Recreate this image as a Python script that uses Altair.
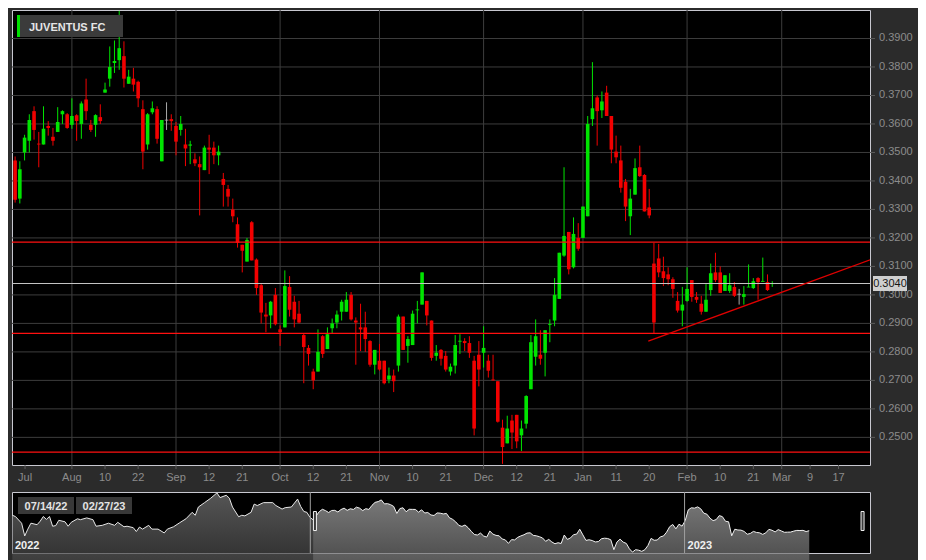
import altair as alt
import pandas as pd

# ---------------- data (daily candles, 14 Jul 2022 - 27 Feb 2023) ----------------
dates = [
    "2022-07-14", "2022-07-15", "2022-07-18", "2022-07-19", "2022-07-20", "2022-07-21", "2022-07-22", "2022-07-25", "2022-07-26", "2022-07-27", "2022-07-28", "2022-07-29",
    "2022-08-01", "2022-08-02", "2022-08-03", "2022-08-04", "2022-08-05", "2022-08-08", "2022-08-09", "2022-08-10", "2022-08-11", "2022-08-12", "2022-08-16", "2022-08-17", "2022-08-18", "2022-08-19", "2022-08-22", "2022-08-23", "2022-08-24", "2022-08-25", "2022-08-26", "2022-08-29", "2022-08-30", "2022-08-31",
    "2022-09-01", "2022-09-02", "2022-09-05", "2022-09-06", "2022-09-07", "2022-09-08", "2022-09-09", "2022-09-12", "2022-09-13", "2022-09-14", "2022-09-15", "2022-09-16", "2022-09-19", "2022-09-20", "2022-09-21", "2022-09-22", "2022-09-23", "2022-09-26", "2022-09-27", "2022-09-28", "2022-09-29", "2022-09-30",
    "2022-10-03", "2022-10-04", "2022-10-05", "2022-10-06", "2022-10-07", "2022-10-10", "2022-10-11", "2022-10-12", "2022-10-13", "2022-10-14", "2022-10-17", "2022-10-18", "2022-10-19", "2022-10-20", "2022-10-21", "2022-10-24", "2022-10-25", "2022-10-26", "2022-10-27", "2022-10-28", "2022-10-31",
    "2022-11-01", "2022-11-02", "2022-11-03", "2022-11-04", "2022-11-07", "2022-11-08", "2022-11-09", "2022-11-10", "2022-11-11", "2022-11-14", "2022-11-15", "2022-11-16", "2022-11-17", "2022-11-18", "2022-11-21", "2022-11-22", "2022-11-23", "2022-11-24", "2022-11-25", "2022-11-28", "2022-11-29", "2022-11-30",
    "2022-12-01", "2022-12-02", "2022-12-05", "2022-12-06", "2022-12-07", "2022-12-08", "2022-12-09", "2022-12-12", "2022-12-13", "2022-12-14", "2022-12-15", "2022-12-16", "2022-12-19", "2022-12-20", "2022-12-21", "2022-12-22", "2022-12-23", "2022-12-27", "2022-12-28", "2022-12-29", "2022-12-30",
    "2023-01-02", "2023-01-03", "2023-01-04", "2023-01-05", "2023-01-06", "2023-01-09", "2023-01-10", "2023-01-11", "2023-01-12", "2023-01-13", "2023-01-16", "2023-01-17", "2023-01-18", "2023-01-19", "2023-01-20", "2023-01-23", "2023-01-24", "2023-01-25", "2023-01-26", "2023-01-27", "2023-01-30", "2023-01-31",
    "2023-02-01", "2023-02-02", "2023-02-03", "2023-02-06", "2023-02-07", "2023-02-08", "2023-02-09", "2023-02-10", "2023-02-13", "2023-02-14", "2023-02-15", "2023-02-16", "2023-02-17", "2023-02-20", "2023-02-21", "2023-02-22", "2023-02-23", "2023-02-24", "2023-02-27",
]

opens = [
    .3472, .3338, .3500, .3541, .3645, .3531, .3528, .3593, .3555, .3572, .3634, .3634,
    .3597, .3631, .3600, .3686, .3597, .3597, .3624, .3710, .3759, .3814, .3824, .3838, .3741, .3759, .3748, .3652, .3528, .3641, .3652, .3469, .3615, .3617,
    .3593, .3579, .3528, .3524, .3476, .3459, .3438, .3517, .3517, .3490, .3407, .3372, .3300, .3248, .3176, .3117, .3255, .3124, .3034, .2931, .2928, .3000,
    .2879, .2886, .3028, .2976, .2934, .2859, .2814, .2731, .2731, .2855, .2810, .2883, .2903, .2941, .2941, .3000, .2910, .2886, .2886, .2838, .2755,
    .2769, .2769, .2703, .2717, .2752, .2924, .2821, .2824, .2946, .2966, .2979, .2910, .2786, .2807, .2786, .2731, .2752, .2836, .2838, .2831, .2769, .2790,
    .2797, .2769, .2703, .2697, .2534, .2479, .2559, .2579, .2507, .2548, .2669, .2855, .2776, .2797, .2895, .2910, .2986, .3138, .3221, .3097, .3200,
    .3200, .3276, .3617, .3693, .3648, .3710, .3628, .3503, .3472, .3397, .3276, .3352, .3448, .3421, .3307, .3110, .3128, .3083, .3072, .3055, .2979, .2945,
    .2979, .3052, .2993, .2969, .2941, .3017, .3079, .3079, .3014, .3014, .3028, .3004, .2993, .3026, .3024, .3059, .3046, .3045, .3038,
]
highs = [
    .3486, .3469, .3562, .3634, .3662, .3572, .3662, .3610, .3586, .3659, .3648, .3638,
    .3690, .3634, .3679, .3759, .3614, .3634, .3669, .3745, .3872, .3893, .3997, .3890, .3790, .3797, .3752, .3683, .3638, .3679, .3662, .3614, .3676, .3634,
    .3607, .3628, .3583, .3541, .3497, .3486, .3524, .3562, .3538, .3524, .3428, .3386, .3338, .3272, .3176, .3200, .3259, .3128, .3038, .2972, .2979, .3024,
    .2893, .3086, .3066, .2997, .2979, .2866, .2824, .2741, .2879, .2859, .2886, .2917, .2945, .2983, .3010, .3010, .2921, .2969, .2941, .2841, .2807,
    .2828, .2769, .2745, .2738, .2931, .2924, .2855, .2945, .2979, .3079, .2979, .2910, .2824, .2810, .2803, .2759, .2859, .2862, .2848, .2855, .2786, .2838,
    .2890, .2790, .2790, .2697, .2562, .2576, .2579, .2579, .2559, .2648, .2859, .2914, .2876, .2876, .2914, .3059, .3148, .3448, .3221, .3272, .3252,
    .3310, .3628, .3817, .3700, .3714, .3734, .3628, .3559, .3524, .3407, .3372, .3479, .3524, .3424, .3372, .3183, .3179, .3134, .3097, .3062, .3010, .3028,
    .3097, .3052, .3010, .2997, .3038, .3110, .3148, .3100, .3069, .3076, .3045, .3021, .3031, .3107, .3059, .3062, .3131, .3072, .3048,
]
lows = [
    .3324, .3321, .3472, .3500, .3545, .3448, .3528, .3559, .3524, .3572, .3600, .3583,
    .3583, .3541, .3548, .3614, .3572, .3555, .3600, .3710, .3731, .3779, .3790, .3728, .3741, .3714, .3659, .3441, .3510, .3634, .3531, .3469, .3579, .3576,
    .3490, .3559, .3452, .3459, .3452, .3279, .3438, .3424, .3459, .3455, .3310, .3310, .3255, .3166, .3079, .3117, .3121, .3000, .2900, .2869, .2883, .2893,
    .2821, .2886, .2924, .2886, .2900, .2690, .2752, .2669, .2731, .2779, .2810, .2866, .2883, .2910, .2941, .2910, .2755, .2803, .2800, .2748, .2721,
    .2734, .2686, .2690, .2659, .2731, .2807, .2762, .2824, .2900, .2966, .2893, .2769, .2769, .2752, .2731, .2717, .2724, .2793, .2803, .2779, .2507, .2679,
    .2745, .2710, .2700, .2552, .2407, .2479, .2459, .2462, .2452, .2531, .2669, .2752, .2755, .2714, .2834, .2890, .2986, .3134, .3072, .3093, .3155,
    .3200, .3276, .3593, .3524, .3621, .3628, .3462, .3462, .3359, .3259, .3210, .3352, .3414, .3293, .3269, .2866, .3062, .3031, .3034, .2990, .2938, .2890,
    .2976, .2976, .2972, .2931, .2941, .2997, .3045, .3007, .3014, .3007, .2993, .2966, .2966, .3028, .3021, .2983, .3048, .3014, .3028,
]
closes = [
    .3334, .3441, .3552, .3614, .3579, .3528, .3583, .3586, .3541, .3607, .3645, .3586,
    .3628, .3610, .3672, .3645, .3579, .3631, .3610, .3721, .3800, .3821, .3866, .3759, .3766, .3738, .3690, .3503, .3634, .3655, .3548, .3614, .3612, .3610,
    .3538, .3600, .3514, .3528, .3462, .3448, .3517, .3510, .3490, .3503, .3386, .3345, .3276, .3183, .3155, .3193, .3121, .3024, .2938, .2924, .2976, .2897,
    .2869, .3031, .2948, .2914, .2903, .2817, .2793, .2700, .2800, .2793, .2862, .2900, .2931, .2976, .2983, .2914, .2903, .2879, .2845, .2755, .2807,
    .2738, .2690, .2717, .2697, .2924, .2807, .2845, .2934, .2949, .3079, .2928, .2779, .2797, .2776, .2738, .2748, .2824, .2839, .2831, .2797, .2531, .2738,
    .2814, .2734, .2700, .2555, .2466, .2531, .2517, .2486, .2531, .2645, .2834, .2783, .2790, .2876, .2898, .3000, .3148, .3207, .3090, .3214, .3162,
    .3310, .3600, .3655, .3645, .3679, .3628, .3510, .3483, .3376, .3310, .3338, .3445, .3417, .3293, .3279, .2903, .3079, .3059, .3055, .3021, .2945, .2966,
    .3021, .2993, .2983, .2941, .2983, .3076, .3052, .3007, .3069, .3034, .2997, .3001, .3003, .3029, .3048, .3045, .3049, .3017, .3040,
]
# g = up (green), r = down (red), n = unchanged (grey); one string per month
tone_rows = [
    "rgggrrgrrggr",
    "grgrrgrggggrgrrrggrgnr",
    "rgrgrrgrrgrrrrrgrrrrgr",
    "rgrrrrrrgrgggggrrrrrg",
    "rrgrgrggggrrgrrgggrrrr",
    "grrrrgrrggggrgggggrgr",
    "gggrgrrrrrggrrrrrrrrrg",
    "grrrggrrggrngggrgrg",
]
tones = list("".join(tone_rows))

# x-axis (trading-day index, 0 = 1 Aug 2022)
first_index = -12
tick_index = [-9.9, 0, 7, 14, 22, 29, 36, 44, 51, 58, 65, 72, 79, 87, 94, 101, 108, 115, 122, 130, 137, 144, 150, 156, 162]
tick_label = ["Jul", "Aug", "10", "22", "Sep", "12", "21", "Oct", "12", "21", "Nov", "10", "21", "Dec", "12", "21",
              "Jan", "11", "20", "Feb", "10", "21", "Mar", "9", "17"]
month_index = [0, 22, 44, 65, 87, 108, 130, 150]
x_domain = [-11.6, 167.6]

# y-axis
y_domain = [0.2403, 0.4000]
y_ticks = [0.25, 0.26, 0.27, 0.28, 0.29, 0.30, 0.31, 0.32, 0.33, 0.34, 0.35, 0.36, 0.37, 0.38, 0.39]

# drawn levels
red_levels = [0.3185, 0.2865, 0.2448]
trend_index = [121.8, 170.0]
trend_price = [0.2838, 0.3131]

# navigator: earlier history (closes read from the overview strip)
early_index = [-109, -108, -106, -105, -104, -103, -101, -100, -99, -98,
               -97, -96, -95, -94, -92, -91, -90, -88, -87, -85,
               -83, -82, -80, -78, -76, -75, -73, -72, -70, -69,
               -68, -67, -65, -64, -62, -60, -59, -57, -55, -53,
               -51, -50, -49, -47, -45, -43, -42, -40, -39, -38,
               -36, -35, -34, -32, -31, -30, -28, -25, -24, -22,
               -21, -19, -17, -16, -15, -14, -13]
early_close = [.3454, .3421, .3241, .2900, .3082, .3241, .3201, .3296, .3421, .3343,
               .3421, .3160, .3177, .3319, .3279, .3160, .3265, .3359, .3336, .3383,
               .3336, .3160, .3184, .3241, .3184, .3265, .3146, .3160, .3122, .3018,
               .3137, .3082, .3184, .3082, .3082, .2980, .3082, .3146, .3255, .3359,
               .3533, .3454, .3675, .3793, .3912, .4054, .3928, .3990, .3912, .3675,
               .3414, .3454, .3438, .3533, .3753, .3715, .3793, .3793, .3715, .3620,
               .3658, .3675, .3888, .3691, .3556, .3533, .3397]
nav_domain = [-109.1, 167.6]
nav_y_domain = [0.2442, 0.4078]
nav_window = [-12.9, -11.4, 165.2]
year_start_index = 107.8
range_labels = ["07/14/22", "02/27/23"]

# ---------------- build ----------------
W, H = 858, 455
NW, NH = 858, 61
GREEN, RED, GREY = "#00e400", "#f20000", "#a8a8a8"
LABEL = "#8c8c8c"
GRID = "#3d3d3d"
FONT = "Liberation Sans"

df = pd.DataFrame({
    "i": list(range(first_index, first_index + len(dates))),
    "date": dates, "open": opens, "high": highs, "low": lows, "close": closes, "tone": tones,
})
one = pd.DataFrame({"k": [0]})
last = closes[-1]

xs = alt.Scale(domain=x_domain, nice=False, zero=False)
ys = alt.Scale(domain=y_domain, nice=False, zero=False)
col = alt.Color("tone:N", scale=alt.Scale(domain=["g", "r", "n"], range=[GREEN, RED, GREY]), legend=None)

ytick_df = pd.DataFrame({"v": y_ticks, "lab": [f"{v:.4f}" for v in y_ticks]})
xtick_df = pd.DataFrame({"i": tick_index, "lab": tick_label})

# price grid, ticks and labels (right side)
grid_h = alt.Chart(ytick_df).mark_rule(color=GRID, strokeWidth=1).encode(
    y=alt.Y("v:Q", scale=ys, axis=None))
ytick_marks = alt.Chart(ytick_df).mark_rule(color="#5c5c5c", strokeWidth=1).encode(
    y=alt.Y("v:Q", scale=ys, axis=None), x=alt.value(W), x2=alt.value(W + 5))
ytick_text = alt.Chart(ytick_df).mark_text(align="left", baseline="middle", fontSize=11, color=LABEL,
                                           font=FONT).encode(
    y=alt.Y("v:Q", scale=ys, axis=None), x=alt.value(W + 9), text="lab:N")

# month grid, date ticks and labels (bottom)
grid_v = alt.Chart(pd.DataFrame({"m": month_index})).mark_rule(color=GRID, strokeWidth=1).encode(
    x=alt.X("m:Q", scale=xs, axis=None))
xtick_marks = alt.Chart(xtick_df).mark_rule(color="#5c5c5c", strokeWidth=1).encode(
    x=alt.X("i:Q", scale=xs, axis=None), y=alt.value(H), y2=alt.value(H + 4))
xtick_text = alt.Chart(xtick_df).mark_text(align="center", baseline="top", fontSize=11, color=LABEL,
                                           font=FONT).encode(
    x=alt.X("i:Q", scale=xs, axis=None), y=alt.value(H + 7), text="lab:N")

wicks = alt.Chart(df).mark_rule(strokeWidth=1, clip=True).encode(
    x=alt.X("i:Q", scale=xs, axis=None),
    y=alt.Y("low:Q", scale=ys, axis=None),
    y2="high:Q",
    color=col,
)
bodies = alt.Chart(df).mark_bar(size=3.6, clip=True).encode(
    x=alt.X("i:Q", scale=xs, axis=None),
    y=alt.Y("open:Q", scale=ys, axis=None),
    y2="close:Q",
    color=col,
)
levels = alt.Chart(pd.DataFrame({"p": red_levels})).mark_rule(color="#ff1010", strokeWidth=1.2).encode(
    y=alt.Y("p:Q", scale=ys, axis=None))
current = alt.Chart(pd.DataFrame({"p": [last]})).mark_rule(color="#c4c4c4", strokeWidth=1).encode(
    y=alt.Y("p:Q", scale=ys, axis=None))
trend = alt.Chart(pd.DataFrame({"i": trend_index, "p": trend_price})).mark_line(
    color="#e00000", strokeWidth=1.3, clip=True).encode(
    x=alt.X("i:Q", scale=xs, axis=None), y=alt.Y("p:Q", scale=ys, axis=None))

tag_df = pd.DataFrame({"p": [last], "t": [f"{last:.4f}"]})
tag_box = alt.Chart(tag_df).mark_tick(color="#cfcfcf", size=34, thickness=15, orient="horizontal", opacity=1).encode(
    y=alt.Y("p:Q", scale=ys, axis=None), x=alt.value(W + 20))
tag_text = alt.Chart(tag_df).mark_text(fontSize=11, color="#151515", align="center",
                                       baseline="middle", font=FONT).encode(
    y=alt.Y("p:Q", scale=ys, axis=None), x=alt.value(W + 20), text="t:N")

title_box = alt.Chart(one).mark_rect(color="#3b3b3b").encode(
    x=alt.value(7), x2=alt.value(111), y=alt.value(5), y2=alt.value(27))
title_bar = alt.Chart(one).mark_rect(color="#00e000").encode(
    x=alt.value(5), x2=alt.value(8), y=alt.value(5), y2=alt.value(27))
title_text = alt.Chart(one).mark_text(text="JUVENTUS FC", align="left", baseline="alphabetic", fontSize=11,
                                      fontWeight="bold", color="#e6e6e6", font=FONT).encode(
    x=alt.value(17), y=alt.value(21))

main = alt.layer(grid_h, grid_v, ytick_marks, ytick_text, xtick_marks, xtick_text,
                 wicks, bodies, levels, current, trend, tag_box, tag_text,
                 title_box, title_bar, title_text).properties(width=W, height=H)

# ---------- navigator ----------
nxs = alt.Scale(domain=nav_domain, nice=False, zero=False)
nys = alt.Scale(domain=nav_y_domain, nice=False, zero=False)
early_df = pd.DataFrame({"i": early_index + [first_index], "c": early_close + [closes[0]]})
sel_df = pd.DataFrame({"i": df["i"], "c": df["close"]})

grad_dark = alt.Gradient(gradient="linear", x1=0, x2=0, y1=0, y2=1,
                         stops=[alt.GradientStop(color="#7a7a7a", offset=0),
                                alt.GradientStop(color="#050505", offset=1)])
grad_light = alt.Gradient(gradient="linear", x1=0, x2=0, y1=0, y2=1,
                          stops=[alt.GradientStop(color="#ababab", offset=0),
                                 alt.GradientStop(color="#1c1c1c", offset=1)])

nav_early = alt.Chart(early_df).mark_area(color=grad_dark, line={"color": "#e8e8e8", "strokeWidth": 1}).encode(
    x=alt.X("i:Q", scale=nxs, axis=None), y=alt.Y("c:Q", scale=nys, axis=None), y2=alt.value(NH))
nav_sel = alt.Chart(sel_df).mark_area(color=grad_light, line={"color": "#f2f2f2", "strokeWidth": 1}).encode(
    x=alt.X("i:Q", scale=nxs, axis=None), y=alt.Y("c:Q", scale=nys, axis=None), y2=alt.value(NH))
nav_lines = alt.Chart(pd.DataFrame({"i": [nav_window[0], year_start_index]})).mark_rule(
    color="#a0a0a0", strokeWidth=1).encode(x=alt.X("i:Q", scale=nxs, axis=None))
handles = alt.Chart(pd.DataFrame({"i": [nav_window[1], nav_window[2]]})).mark_tick(
    orient="vertical", size=19, thickness=3, color="#3a3a3a", stroke="#f0f0f0", strokeWidth=1, opacity=1).encode(
    x=alt.X("i:Q", scale=nxs, axis=None), y=alt.value(29))
box_df = pd.DataFrame({"x0": [6, 64], "x1": [62, 120], "xc": [34, 92], "t": range_labels})
boxes = alt.Chart(box_df).mark_rect(color="#383838").encode(
    x=alt.X("x0:Q", scale=None), x2="x1:Q", y=alt.value(5), y2=alt.value(22))
box_text = alt.Chart(box_df).mark_text(fontSize=11, fontWeight="bold", color="#e4e4e4", align="center",
                                       baseline="alphabetic", font=FONT).encode(
    x=alt.X("xc:Q", scale=None), y=alt.value(18), text="t:N")
year_df = pd.DataFrame({"i": [nav_domain[0], year_start_index], "t": ["2022", "2023"]})
years = alt.Chart(year_df).mark_text(fontSize=11, fontWeight="bold", color="#f0f0f0", align="left",
                                     baseline="alphabetic", dx=3, font=FONT).encode(
    x=alt.X("i:Q", scale=nxs, axis=None), y=alt.value(57), text="t:N")

nav = alt.layer(nav_early, nav_sel, nav_lines, handles, boxes, box_text, years).properties(width=NW, height=NH)

chart = alt.vconcat(main, nav, spacing=27, bounds="flush").properties(
    background="#2b2b2b", padding={"left": 1, "top": 1, "right": 4, "bottom": 0}
).configure_view(stroke="#c8c8d0", strokeWidth=1, fill="#000000")

chart.save("out.html", embed_options={"renderer": "svg", "actions": False})
